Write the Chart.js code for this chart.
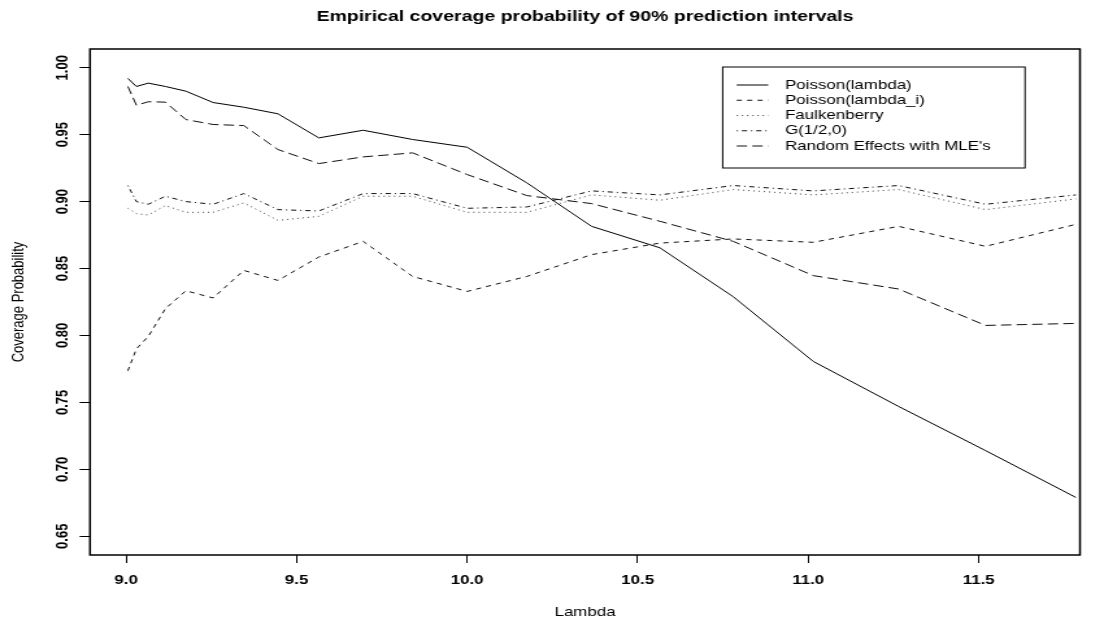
<!DOCTYPE html>
<html>
<head>
<meta charset="utf-8">
<script src="https://cdn.jsdelivr.net/npm/chart.js@4/dist/chart.umd.min.js"></script>
<style>
  body { margin: 0; background: #fff; }
</style>
</head>
<body>
<canvas id="grafica" width="850" height="626" style="width:1104px;height:626px"></canvas>
<script>
// valores
var lambdas = [9.005, 9.03, 9.065, 9.115, 9.175, 9.255, 9.345, 9.445, 9.565, 9.695,
               9.84, 10.0, 10.175, 10.365, 10.565, 10.78, 11.015, 11.265, 11.52, 11.785];

var poissonLambda = [0.992, 0.986, 0.9885, 0.986, 0.9825, 0.974, 0.9705, 0.9656, 0.9476, 0.9533,
                     0.9464, 0.9406, 0.914, 0.8815, 0.8655, 0.829, 0.7806, 0.747, 0.714, 0.679];

var poissonLambdaI = [0.7736, 0.790, 0.7993, 0.820, 0.8334, 0.828, 0.8486, 0.8411, 0.8586, 0.8703,
                      0.8441, 0.8329, 0.8441, 0.8604, 0.869, 0.8721, 0.8696, 0.8815, 0.8666, 0.883];

var faulkenberry = [0.895, 0.891, 0.890, 0.897, 0.892, 0.892, 0.899, 0.886, 0.889, 0.904,
                    0.904, 0.892, 0.892, 0.905, 0.901, 0.909, 0.905, 0.909, 0.894, 0.902];

var gMitad = [0.912, 0.900, 0.898, 0.904, 0.900, 0.898, 0.906, 0.894, 0.893, 0.906,
              0.906, 0.895, 0.896, 0.908, 0.905, 0.912, 0.908, 0.912, 0.898, 0.905];

var efectosAleatorios = [0.986, 0.972, 0.9746, 0.9743, 0.9613, 0.9576, 0.9568, 0.9389, 0.9284, 0.9334,
                         0.9364, 0.9202, 0.9045, 0.8985, 0.8853, 0.8703, 0.8447, 0.8347, 0.8075, 0.809];

var etiquetas = ['Poisson(lambda)', 'Poisson(lambda_i)', 'Faulkenberry', 'G(1/2,0)', "Random Effects with MLE's"];

var ticksX = [9.0, 9.5, 10.0, 10.5, 11.0, 11.5];
var ticksY = [0.65, 0.70, 0.75, 0.80, 0.85, 0.90, 0.95, 1.00];

var fuente = '"Liberation Sans", Arial, Helvetica, sans-serif';

function puntos(arreglo){
    return lambdas.map(function(x, i){ return {x: x, y: arreglo[i]}; });
}

var estilos = [
    {dash: [], color: '#000'},
    {dash: [4, 4], color: '#111'},
    {dash: [1, 3], color: '#444'},
    {dash: [1, 3, 4, 3], color: '#111'},
    {dash: [8, 4], color: '#111'}
];
var series = [poissonLambda, poissonLambdaI, faulkenberry, gMitad, efectosAleatorios];

var datasets = series.map(function(s, i){
    return {
        label: etiquetas[i],
        data: puntos(s),
        borderColor: estilos[i].color,
        borderDash: estilos[i].dash,
        borderWidth: 1,
        pointRadius: 0,
        tension: 0,
        fill: false
    };
});

/*-------------------------plugin de marco y textos-------------------------*/
var marco = {
    id: 'marco',
    beforeDraw: function(chart){
        var ctx = chart.ctx;
        ctx.save();
        ctx.fillStyle = '#fff';
        ctx.fillRect(0, 0, chart.width, chart.height);
        ctx.restore();
    },
    afterDraw: function(chart){
        var ctx = chart.ctx;
        var a = chart.chartArea;
        var escY = chart.scales.y;
        ctx.save();

        // caja
        ctx.strokeStyle = '#000';
        ctx.lineWidth = 1.5;
        ctx.setLineDash([]);
        ctx.strokeRect(a.left, a.top, a.right - a.left, a.bottom - a.top);

        // titulo
        ctx.fillStyle = '#000';
        ctx.textAlign = 'center';
        ctx.textBaseline = 'middle';
        ctx.font = 'bold 15px ' + fuente;
        ctx.fillText('Empirical coverage probability of 90% prediction intervals', (a.left + a.right) / 2, 17);

        // etiquetas del eje y, giradas
        ctx.font = 'bold 13px ' + fuente;
        ticksY.forEach(function(v){
            var py = escY.getPixelForValue(v);
            ctx.save();
            ctx.translate(48.5, py);
            ctx.rotate(-Math.PI / 2);
            ctx.fillText(v.toFixed(2), 0, 0);
            ctx.restore();
        });

        // titulos de ejes
        ctx.font = '13px ' + fuente;
        ctx.save();
        ctx.translate(14, (a.top + a.bottom) / 2);
        ctx.rotate(-Math.PI / 2);
        ctx.fillText('Coverage Probability', 0, 0);
        ctx.restore();
        ctx.fillText('Lambda', (a.left + a.right) / 2, 612);

        // leyenda
        var lx = 556.4, ly = 67, lw = 232.8, lh = 101;
        ctx.lineWidth = 1;
        ctx.strokeStyle = '#000';
        ctx.strokeRect(lx, ly, lw, lh);
        ctx.font = '13px ' + fuente;
        ctx.textAlign = 'left';
        chart.data.datasets.forEach(function(d, i){
            var yy = 85 + i * 15.25;
            ctx.beginPath();
            ctx.setLineDash(d.borderDash);
            ctx.strokeStyle = d.borderColor;
            ctx.moveTo(567.2, yy);
            ctx.lineTo(591.5, yy);
            ctx.stroke();
            ctx.fillStyle = '#000';
            ctx.fillText(d.label, 604.4, yy);
        });
        ctx.restore();
    }
};

var miGrafica = new Chart(document.getElementById('grafica').getContext('2d'), {
    type: 'line',
    data: {datasets: datasets},
    options: {
        responsive: false,
        animation: false,
        devicePixelRatio: 1,
        layout: {padding: {top: 49, right: 18.5, left: 0, bottom: 0}},
        plugins: {legend: {display: false}, title: {display: false}, tooltip: {enabled: false}},
        scales: {
            x: {
                type: 'linear',
                min: 8.894,
                max: 11.797,
                border: {display: false},
                grid: {drawOnChartArea: false, drawTicks: true, tickLength: 8, color: '#000', lineWidth: 1},
                afterBuildTicks: function(s){ s.ticks = ticksX.map(function(v){ return {value: v}; }); },
                afterFit: function(s){ s.height = 71; },
                ticks: {
                    autoSkip: false,
                    maxRotation: 0,
                    padding: 10,
                    color: '#000',
                    font: {family: fuente, size: 13, weight: 'bold'},
                    callback: function(v){ return Number(v).toFixed(1); }
                }
            },
            y: {
                type: 'linear',
                min: 0.636,
                max: 1.014,
                border: {display: false},
                grid: {drawOnChartArea: false, drawTicks: true, tickLength: 8, color: '#000', lineWidth: 1},
                afterBuildTicks: function(s){ s.ticks = ticksY.map(function(v){ return {value: v}; }); },
                afterFit: function(s){ s.width = 69.3; },
                ticks: {display: false}
            }
        }
    },
    plugins: [marco]
});
</script>
</body>
</html>
